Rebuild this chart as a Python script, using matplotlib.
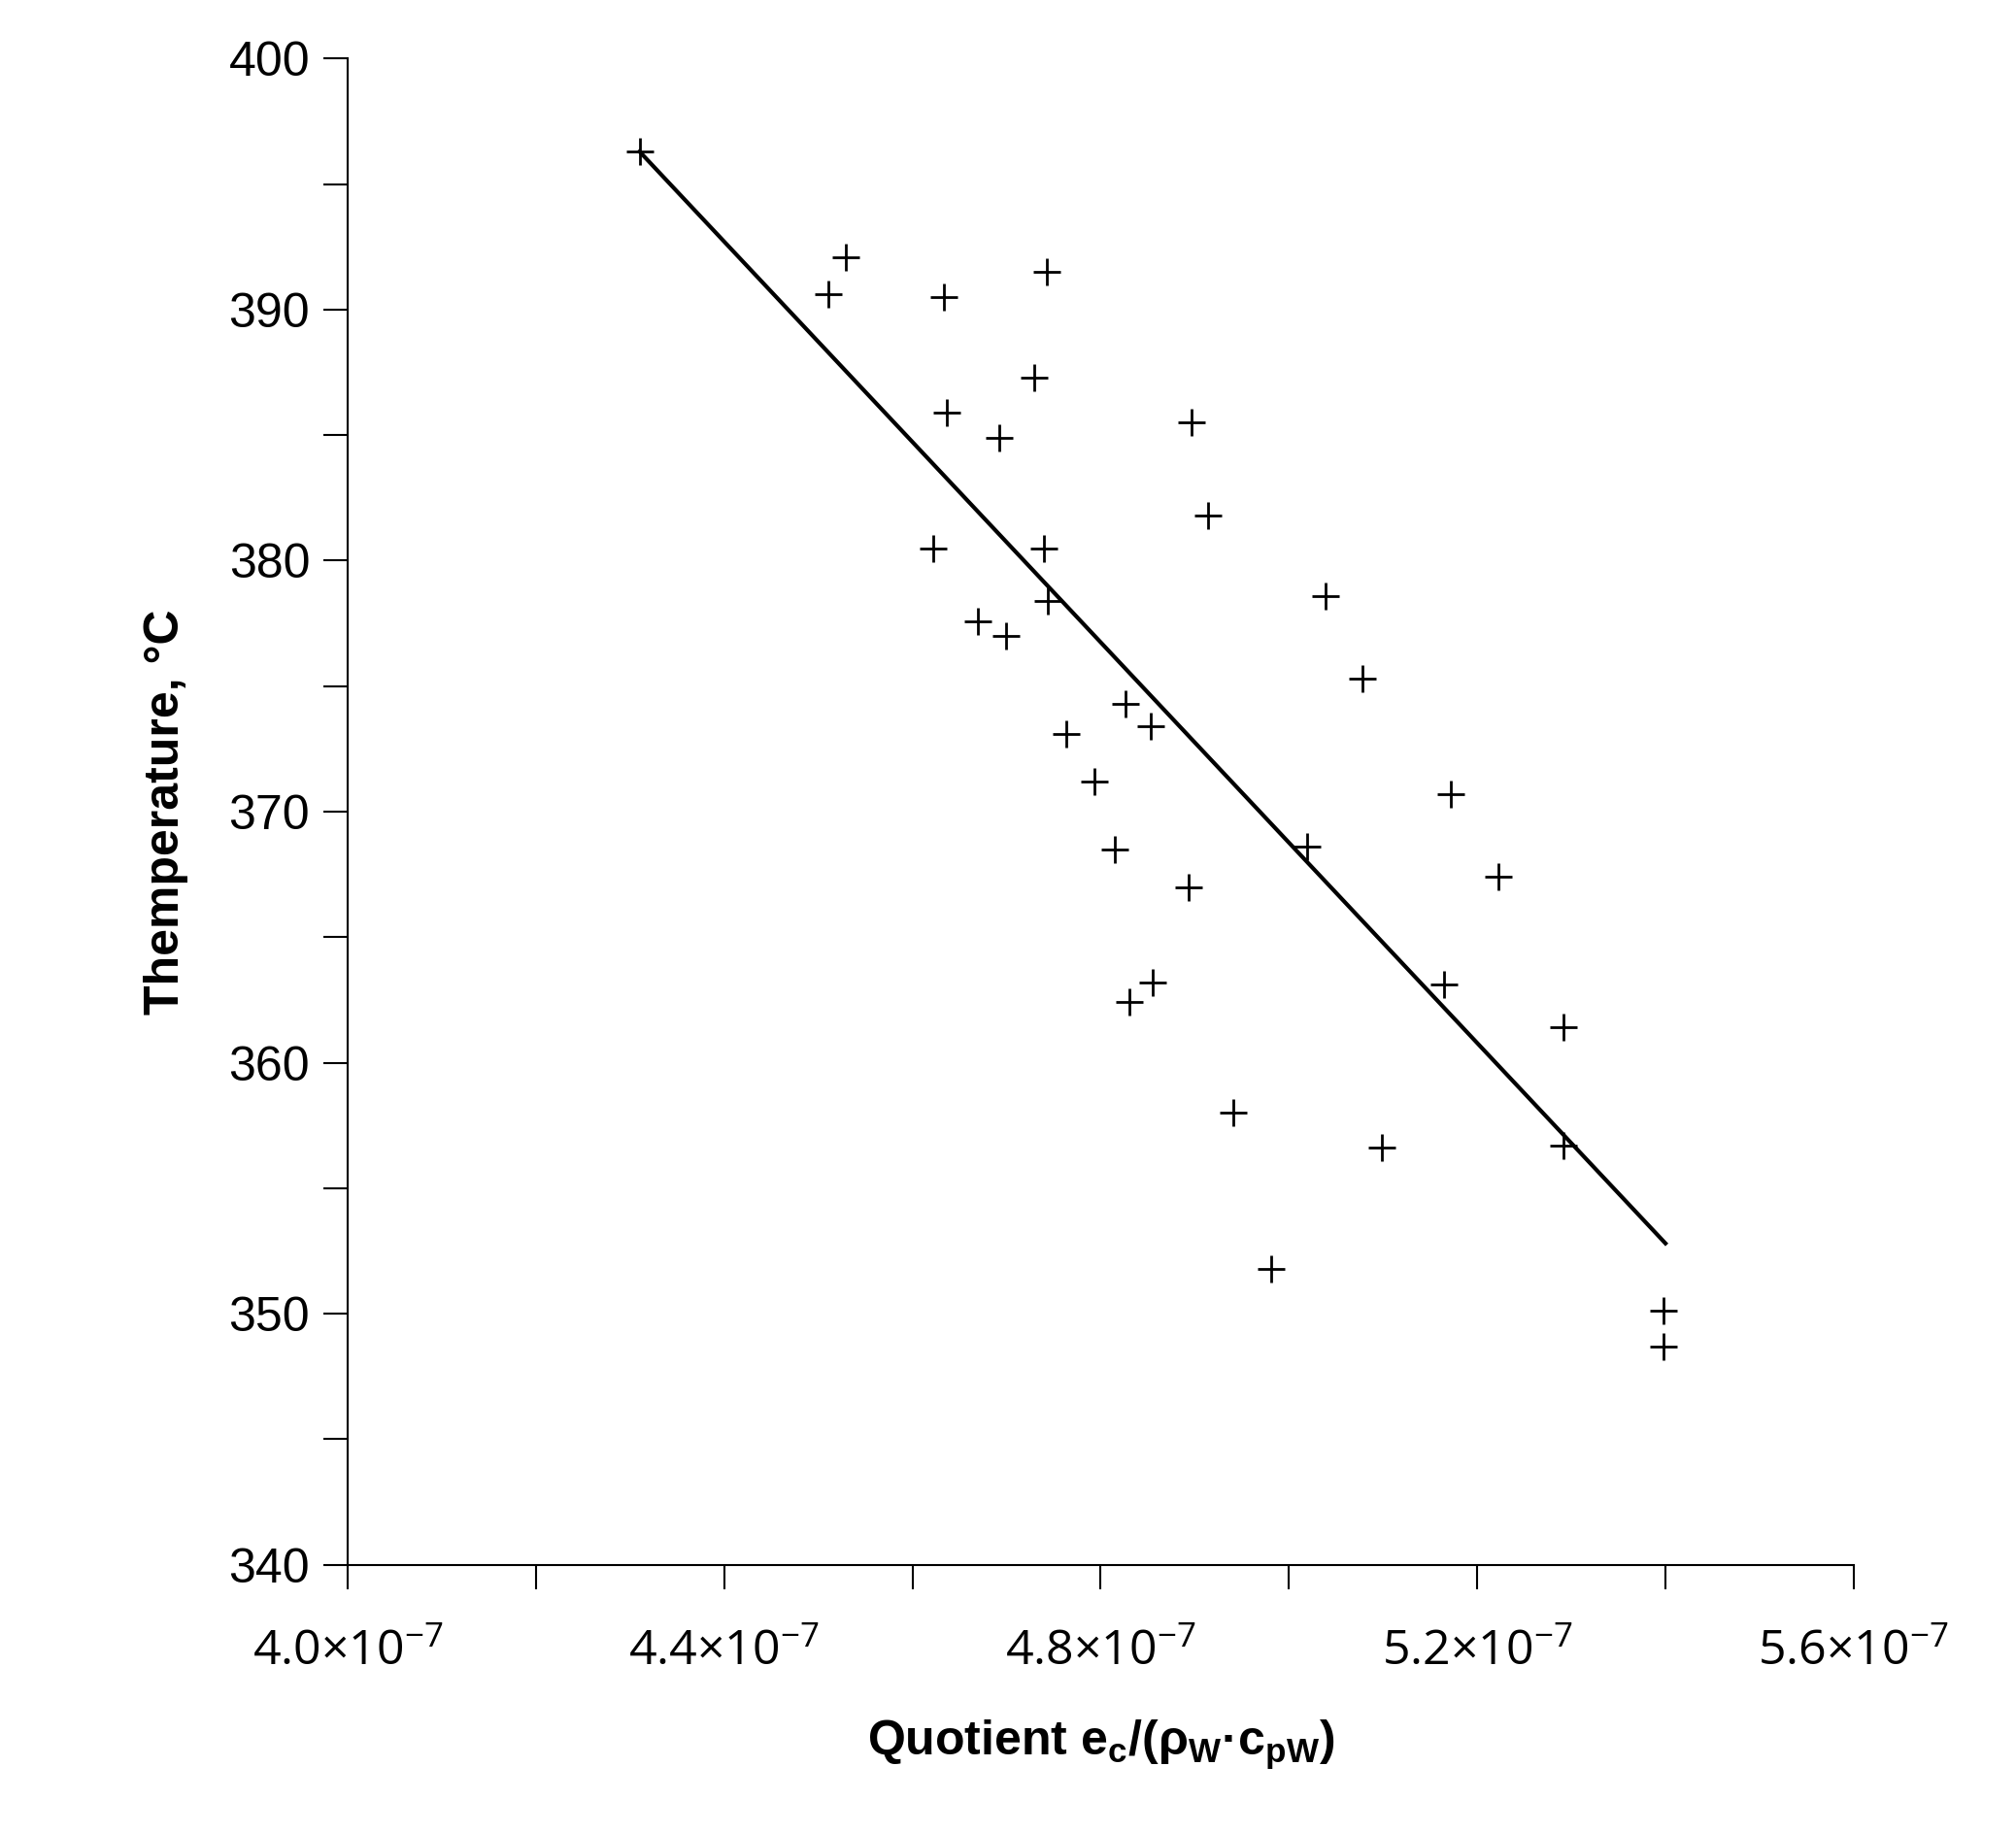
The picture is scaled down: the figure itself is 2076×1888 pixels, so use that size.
import matplotlib
matplotlib.use("Agg")
import matplotlib.pyplot as plt
from matplotlib.ticker import MultipleLocator, FuncFormatter

# quotient values (units of 1e-7) and temperatures
quotient = [4.310, 4.511, 4.529, 4.633, 4.743, 4.636, 4.729, 4.692, 4.896, 4.914,
            4.622, 4.740, 4.744, 4.670, 4.699, 5.039, 5.078, 4.826, 4.853, 4.763,
            4.793, 5.172, 4.815, 5.019, 5.223, 4.893, 4.855, 4.830, 5.165, 5.292,
            4.941, 5.099, 5.292, 4.981, 5.398, 5.398]
temperature = [396.3, 390.6, 392.1, 390.5, 391.5, 385.9, 387.3, 384.9, 385.5, 381.8,
               380.5, 380.5, 378.4, 377.6, 377.0, 378.6, 375.3, 374.3, 373.4, 373.1,
               371.2, 370.7, 368.5, 368.6, 367.4, 367.0, 363.2, 362.4, 363.1, 361.4,
               358.0, 356.6, 356.7, 351.8, 350.1, 348.7]
fit_x = [4.31, 5.40]
fit_y = [396.3, 352.8]

plt.rcParams["font.family"] = ["Liberation Sans", "DejaVu Sans"]
plt.rcParams["mathtext.fontset"] = "custom"
plt.rcParams["mathtext.rm"] = "Open Sans"

fig = plt.figure(figsize=(20.76, 18.88), dpi=100)
ax = fig.add_axes([0.1725, 0.1464, 0.747, 0.8216])

ax.plot([v * 1e-7 for v in fit_x], fit_y, color="black", lw=3)
ax.plot([v * 1e-7 for v in quotient], temperature, ls="none", marker="+",
        color="black", markersize=20, mew=2)

ax.set_xlim(4.0e-7, 5.6e-7)
ax.set_ylim(340, 400)
for s in ("top", "right"):
    ax.spines[s].set_visible(False)
for s in ("left", "bottom"):
    ax.spines[s].set_linewidth(1.5)

ax.xaxis.set_major_locator(MultipleLocator(0.4e-7))
ax.xaxis.set_minor_locator(MultipleLocator(0.2e-7))
ax.yaxis.set_major_locator(MultipleLocator(10))
ax.yaxis.set_minor_locator(MultipleLocator(5))
ax.xaxis.set_major_formatter(FuncFormatter(lambda v, p: f"{v*1e7:.1f}\u00d710$^{{-7}}$"))
ax.tick_params(which="both", direction="out", length=18, width=1.5)
ax.tick_params(axis="y", labelsize=36, pad=10)
ax.tick_params(axis="x", labelsize=36, pad=30)
for lab in ax.get_xticklabels():
    lab.set_family(["Open Sans", "DejaVu Sans"])

ax.set_xlabel("Quotient e$_\\mathregular{c}$/(\u03c1$_\\mathregular{W}$\u00b7c$_\\mathregular{pW}$)",
              fontsize=36, fontweight="bold", labelpad=30)
ax.set_ylabel("Themperature, \u00b0C", fontsize=36, fontweight="bold", labelpad=30)

fig.savefig("out.png", dpi=100)
